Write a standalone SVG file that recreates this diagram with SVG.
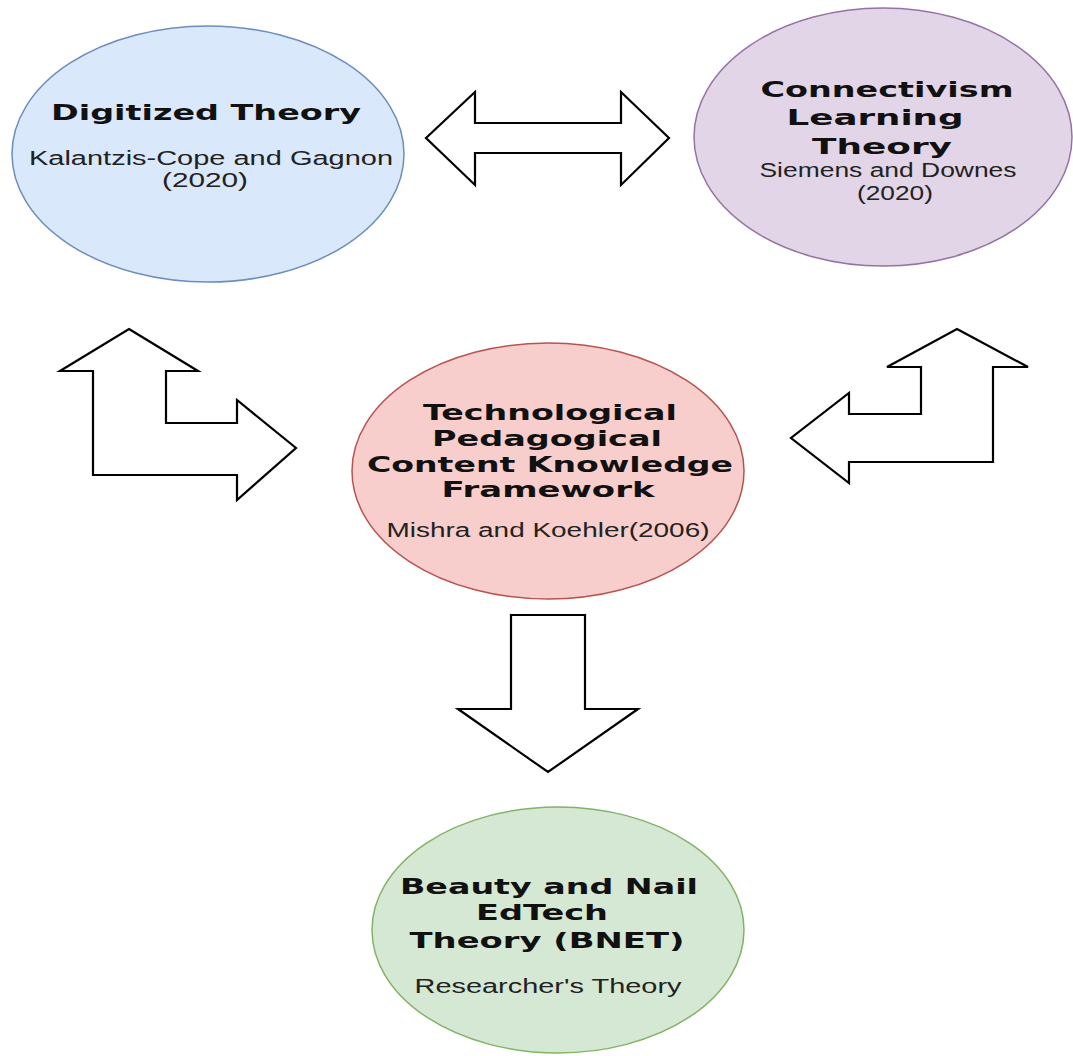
<svg xmlns="http://www.w3.org/2000/svg" width="1073" height="1056" viewBox="0 0 1073 1056">
<style>
.t{font-family:"DejaVu Sans",Verdana,sans-serif;font-weight:bold;font-size:22px;fill:#111;text-anchor:middle}
.s{font-family:"Liberation Sans",Arial,sans-serif;font-size:19.5px;fill:#222;text-anchor:middle}
.arr{fill:#fff;stroke:#000;stroke-width:2.2;stroke-linejoin:miter}
</style>
<rect width="1073" height="1056" fill="#fff"/>
<g id="connectors">
<polygon class="arr" points="426,138 475,92 475,123 621,123 621,92 669,138 621,185 621,153 475,153 475,185"/>
<polygon class="arr" points="129,329 198,371 166,371 166,423 237,423 237,400 296,448 237,500 237,475 93,475 93,371 60,371"/>
<polygon class="arr" points="957,329 1028,367 993,367 993,462 849,462 849,483 791,438 849,393 849,414 921,414 921,367 887,367"/>
<polygon class="arr" points="511,615 585,615 585,709 638,709 548,772 458,709 511,709"/>
</g>
<g id="digitized">
<ellipse cx="208" cy="154" rx="196" ry="128" fill="#dae8fc" stroke="#6c8ebf" stroke-width="1.5"/>
<text class="t" x="206" y="120" textLength="310" lengthAdjust="spacingAndGlyphs">Digitized Theory</text>
<text class="s" x="211" y="165" textLength="364" lengthAdjust="spacingAndGlyphs">Kalantzis-Cope and Gagnon</text>
<text class="s" x="205" y="187" textLength="86" lengthAdjust="spacingAndGlyphs">(2020)</text>
</g>
<g id="connectivism">
<ellipse cx="883" cy="137" rx="189" ry="129" fill="#e1d5e7" stroke="#9673a6" stroke-width="1.5"/>
<text class="t" x="887" y="97" textLength="253" lengthAdjust="spacingAndGlyphs">Connectivism</text>
<text class="t" x="875" y="125" textLength="177" lengthAdjust="spacingAndGlyphs">Learning</text>
<text class="t" x="882" y="154" textLength="140" lengthAdjust="spacingAndGlyphs">Theory</text>
<text class="s" x="888" y="177" textLength="257" lengthAdjust="spacingAndGlyphs">Siemens and Downes</text>
<text class="s" x="895" y="200" textLength="76" lengthAdjust="spacingAndGlyphs">(2020)</text>
</g>
<g id="tpack">
<ellipse cx="548" cy="471" rx="196" ry="128" fill="#f8cecc" stroke="#b85450" stroke-width="1.5"/>
<text class="t" x="550" y="420" textLength="254" lengthAdjust="spacingAndGlyphs">Technological</text>
<text class="t" x="547" y="446" textLength="230" lengthAdjust="spacingAndGlyphs">Pedagogical</text>
<text class="t" x="550" y="472" textLength="366" lengthAdjust="spacingAndGlyphs">Content Knowledge</text>
<text class="t" x="548" y="497" textLength="213" lengthAdjust="spacingAndGlyphs">Framework</text>
<text class="s" x="548" y="537" textLength="323" lengthAdjust="spacingAndGlyphs">Mishra and Koehler(2006)</text>
</g>
<g id="bnet">
<ellipse cx="558" cy="930" rx="186" ry="123" fill="#d5e8d4" stroke="#82b366" stroke-width="1.5"/>
<text class="t" x="549" y="894" textLength="298" lengthAdjust="spacingAndGlyphs">Beauty and Nail</text>
<text class="t" x="542" y="920" textLength="132" lengthAdjust="spacingAndGlyphs">EdTech</text>
<text class="t" x="547" y="948" textLength="275" lengthAdjust="spacingAndGlyphs">Theory (BNET)</text>
<text class="s" x="548" y="993" textLength="267" lengthAdjust="spacingAndGlyphs">Researcher's Theory</text>
</g>
</svg>
